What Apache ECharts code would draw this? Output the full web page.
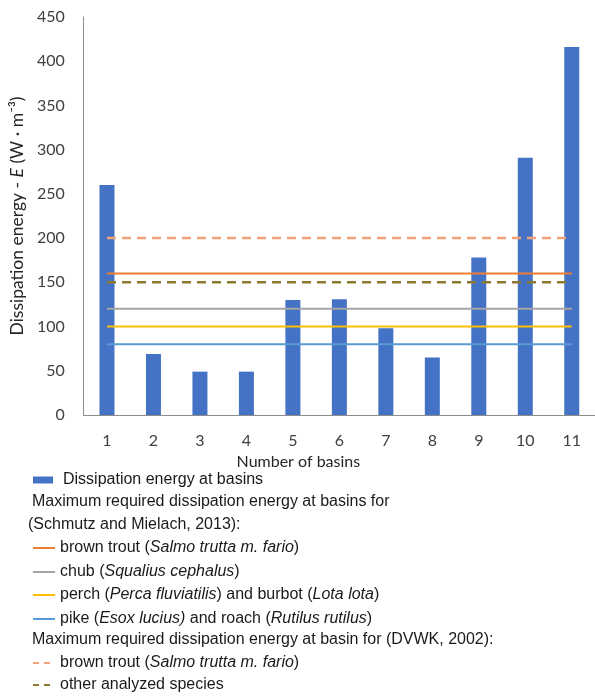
<!DOCTYPE html>
<html>
<head>
<meta charset="utf-8">
<script src="https://cdn.jsdelivr.net/npm/echarts@6/dist/echarts.min.js"></script>
<style>
  html, body { margin: 0; padding: 0; background: #fff; }
  #chart { width: 595px; height: 699px; }
</style>
</head>
<body>
<div id="chart"></div>
<script>
// Basins along the fish pass
const categories = ['1', '2', '3', '4', '5', '6', '7', '8', '9', '10', '11'];
// Dissipation energy computed for each basin (W·m^-3)
const dissipationEnergy = [260, 69, 49, 49, 130, 131, 98, 65, 178, 291, 416];

// Maximum required dissipation energy (Schmutz and Mielach, 2013)
const brownTroutSM = [160, 160, 160, 160, 160, 160, 160, 160, 160, 160, 160];
const chubSM = [120, 120, 120, 120, 120, 120, 120, 120, 120, 120, 120];
const perchBurbotSM = [100, 100, 100, 100, 100, 100, 100, 100, 100, 100, 100];
const pikeRoachSM = [80, 80, 80, 80, 80, 80, 80, 80, 80, 80, 80];
// Maximum required dissipation energy (DVWK, 2002)
const brownTroutDVWK = [200, 200, 200, 200, 200, 200, 200, 200, 200, 200, 200];
const otherSpeciesDVWK = [150, 150, 150, 150, 150, 150, 150, 150, 150, 150, 150];

const yTicks = { min: 0, max: 450, interval: 50 };

const FONT_AXIS = 'Lato';
const FONT_LEG = '"Liberation Sans", Arial, sans-serif';
const TXT = '#1a1a1a';
const LEG_SIZE = 16;

const C = {
  bar: '#4472C4',
  troutSM: '#ED7D31',
  chub: '#A5A5A5',
  perch: '#FFC000',
  pike: '#5B9BD5',
  troutDVWK: '#F2A27A',
  other: '#8C7A30'
};

const lineSeries = (name, data, color, dashed) => ({
  name, type: 'line', data,
  symbol: 'none', silent: true,
  itemStyle: { color },
  lineStyle: { color, width: dashed ? 2.5 : 2, type: dashed ? [9, 6] : 'solid' },
  z: 3
});

// legend rows: name, rich label, icon, vertical centre
const SOLID_ICON = 'path://M0,0H22V2H0Z';
const DASH_ICON = 'path://M0,0H6V2H0Z M11,0H17V2H11Z';
const legendRows = [
  { name: 'Dissipation energy at basins', label: '{n|Dissipation energy at basins}', icon: 'rect', w: 20, h: 7, y: 480, gap: 10 },
  { name: 'brown trout SM', label: '{n|brown trout (}{i|Salmo trutta m. fario}{n|)}', icon: SOLID_ICON, w: 22, h: 2, y: 548, gap: 5 },
  { name: 'chub SM', label: '{n|chub (}{i|Squalius cephalus}{n|)}', icon: SOLID_ICON, w: 22, h: 2, y: 572, gap: 5 },
  { name: 'perch burbot SM', label: '{n|perch (}{i|Perca fluviatilis}{n|) and burbot (}{i|Lota lota}{n|)}', icon: SOLID_ICON, w: 22, h: 2, y: 595, gap: 5 },
  { name: 'pike roach SM', label: '{n|pike (}{i|Esox lucius)}{n| and roach (}{i|Rutilus rutilus}{n|)}', icon: SOLID_ICON, w: 22, h: 2, y: 619, gap: 5 },
  { name: 'brown trout DVWK', label: '{n|brown trout (}{i|Salmo trutta m. fario}{n|)}', icon: DASH_ICON, w: 17, h: 2, y: 663, gap: 10 },
  { name: 'other DVWK', label: '{n|other analyzed species}', icon: DASH_ICON, w: 17, h: 2, y: 685, gap: 10 }
];
const labelOf = {};
legendRows.forEach(r => { labelOf[r.name] = r.label; });

const legendRich = {
  n: { fontFamily: FONT_LEG, fontSize: LEG_SIZE, color: TXT },
  i: { fontFamily: FONT_LEG, fontSize: LEG_SIZE, color: TXT, fontStyle: 'italic' }
};
const headerFont = LEG_SIZE + 'px "Liberation Sans", Arial, sans-serif';

const chart = echarts.init(document.getElementById('chart'), null, { renderer: 'canvas' });
chart.setOption({
  animation: false,
  backgroundColor: '#ffffff',
  grid: { left: 81, right: 0, top: 17, bottom: 284, containLabel: false },
  xAxis: {
    type: 'category',
    data: categories,
    boundaryGap: true,
    axisLine: { lineStyle: { color: '#8c8c8c', width: 1 } },
    axisTick: { show: false },
    axisLabel: { fontFamily: FONT_AXIS, fontSize: 16, color: '#404040', margin: 18 },
    name: 'Number of basins',
    nameLocation: 'middle',
    nameGap: 33,
    nameTextStyle: { fontFamily: FONT_AXIS, fontSize: 16, color: '#262626', padding: [0, 82, 0, 0] }
  },
  yAxis: {
    type: 'value',
    min: yTicks.min, max: yTicks.max, interval: yTicks.interval,
    splitLine: { show: false },
    axisLine: { show: true, lineStyle: { color: '#8c8c8c', width: 1 } },
    axisTick: { show: false },
    axisLabel: { fontFamily: FONT_AXIS, fontSize: 16, color: '#404040', margin: 19 },
    name: '{n|Dissipation energy - }{i|E}{n| (W · m⁻³)}',
    nameLocation: 'middle',
    nameGap: 50,
    nameRotate: 90,
    nameTextStyle: {
      rich: {
        n: { fontFamily: FONT_AXIS, fontSize: 17.5, color: '#262626' },
        i: { fontFamily: FONT_AXIS, fontSize: 17.5, color: '#262626', fontStyle: 'italic' }
      }
    }
  },
  legend: legendRows.map(r => ({
    data: [r.name],
    left: 33,
    top: r.y - 9,
    padding: 0,
    selectedMode: false,
    icon: r.icon,
    itemWidth: r.w,
    itemHeight: r.h,
    itemGap: 0,
    itemStyle: { borderWidth: 0 },
    textStyle: { padding: [0, 0, 0, r.gap - 5], lineHeight: 18, rich: legendRich },
    formatter: name => labelOf[name]
  })),
  graphic: [
    { type: 'text', left: 32, top: 503 - 9, silent: true,
      style: { text: 'Maximum required dissipation energy at basins for', font: headerFont, fill: TXT } },
    { type: 'text', left: 28, top: 526 - 9, silent: true,
      style: { text: '(Schmutz and Mielach, 2013):', font: headerFont, fill: TXT } },
    { type: 'text', left: 32, top: 641 - 9, silent: true,
      style: { text: 'Maximum required dissipation energy at basin for (DVWK, 2002):', font: headerFont, fill: TXT } }
  ],
  series: [
    {
      name: 'Dissipation energy at basins',
      type: 'bar',
      data: dissipationEnergy,
      barWidth: 15,
      itemStyle: { color: C.bar },
      silent: true,
      z: 2
    },
    lineSeries('brown trout SM', brownTroutSM, C.troutSM, false),
    lineSeries('chub SM', chubSM, C.chub, false),
    lineSeries('perch burbot SM', perchBurbotSM, C.perch, false),
    lineSeries('pike roach SM', pikeRoachSM, C.pike, false),
    lineSeries('brown trout DVWK', brownTroutDVWK, C.troutDVWK, true),
    lineSeries('other DVWK', otherSpeciesDVWK, C.other, true)
  ]
});
</script>
</body>
</html>
